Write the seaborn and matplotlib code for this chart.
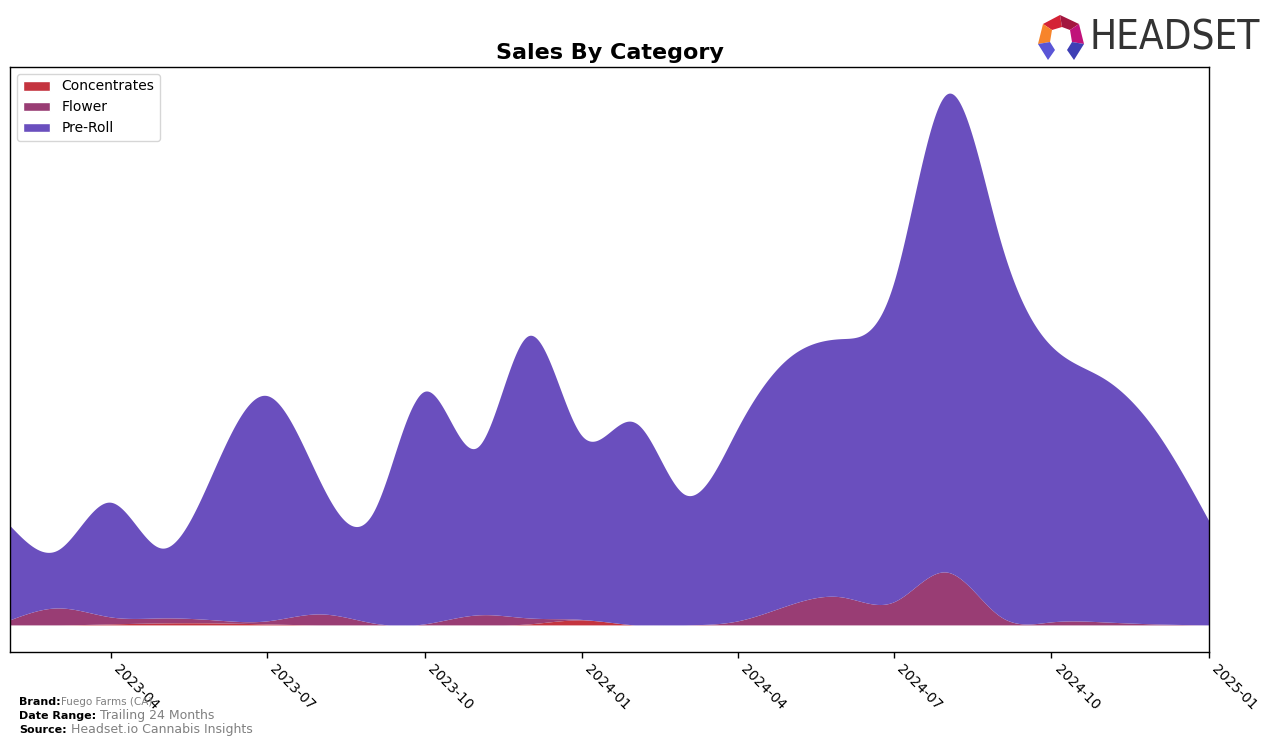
import numpy as np
import pandas as pd
import matplotlib
matplotlib.use("Agg")
import matplotlib.pyplot as plt
import matplotlib.dates as mdates
from matplotlib.patches import Polygon, Patch
import seaborn as sns

# ---- data (monthly) ----
months = pd.date_range("2023-02-01", "2025-01-01", freq="MS")
concentrates = [0, 0, 1, 2, 2, 1, 0, 0, 0, 0, 1, 5,
                0, 0, 0, 0, 0, 0, 0, 0, 0, 0, 0, 0]
flower = [5, 17, 7, 5, 3, 3, 11, 2, 1, 10, 6, 0.5,
          0, 0, 4, 20, 28, 23, 53, 9, 3, 3, 1, 0]
preroll_total = [100, 75, 123, 77, 158, 230, 145, 112, 234, 178, 290, 190,
                 203, 131, 197, 268, 287, 342, 532, 388, 280, 247, 195, 105]
categories = ["Concentrates", "Flower", "Pre-Roll"]
colors = ["#C4343F", "#993D74", "#6A4FBE"]
tick_labels = ["2023-04", "2023-07", "2023-10", "2024-01",
               "2024-04", "2024-07", "2024-10", "2025-01"]

conc = np.array(concentrates, float)
flow = np.array(flower, float)
pre = np.array(preroll_total, float) - conc - flow

df = pd.DataFrame({"date": months, "Concentrates": conc,
                   "Flower": flow, "Pre-Roll": pre})


def natural_spline(x, y, xs):
    n = len(x)
    h = np.diff(x)
    A = np.zeros((n, n))
    b = np.zeros(n)
    A[0, 0] = 1
    A[-1, -1] = 1
    for i in range(1, n - 1):
        A[i, i - 1] = h[i - 1]
        A[i, i] = 2 * (h[i - 1] + h[i])
        A[i, i + 1] = h[i]
        b[i] = 3 * ((y[i + 1] - y[i]) / h[i] - (y[i] - y[i - 1]) / h[i - 1])
    c = np.linalg.solve(A, b)
    bc = (y[1:] - y[:-1]) / h - h * (2 * c[:-1] + c[1:]) / 3
    d = (c[1:] - c[:-1]) / (3 * h)
    idx = np.clip(np.searchsorted(x, xs) - 1, 0, n - 2)
    dx = xs - x[idx]
    return y[idx] + bc[idx] * dx + c[idx] * dx ** 2 + d[idx] * dx ** 3


sns.set_style("white")
plt.rcParams["font.family"] = ["DejaVu Sans"]
plt.rcParams["text.color"] = "black"
plt.rcParams["axes.labelcolor"] = "black"
plt.rcParams["xtick.color"] = "black"
plt.rcParams["axes.titlecolor"] = "black"

fig = plt.figure(figsize=(12.76, 7.47), dpi=100)
ax = fig.add_axes([10 / 1276, 1 - 652 / 747, 1199 / 1276, 585 / 747])

xnum = mdates.date2num(df["date"])
xs = np.linspace(xnum[0], xnum[-1], 1500)
layers = [np.clip(natural_spline(xnum, df[c].values, xs), 0, None) for c in categories]

ax.stackplot(mdates.num2date(xs), *layers, colors=colors, labels=categories,
             linewidth=0.3, edgecolor="none")

total = np.sum(layers, axis=0)
pad = 0.05 * total.max()
ax.set_ylim(-pad, total.max() + pad)
ax.set_xlim(months[0], months[-1])
ax.set_yticks([])

ax.xaxis.set_major_locator(mdates.MonthLocator(bymonth=[1, 4, 7, 10]))
ax.xaxis.set_major_formatter(mdates.DateFormatter("%Y-%m"))
ticks = [t for t in ax.get_xticks() if xnum[0] < t <= xnum[-1] + 0.5]
ax.set_xticks(ticks)
ax.set_xticklabels(tick_labels[:len(ticks)], rotation=-45, ha="left",
                   fontsize=10, color="black")
ax.tick_params(axis="x", length=4, width=1, colors="black", bottom=True)
for s in ax.spines.values():
    s.set_color("black")
    s.set_linewidth(1)

ax.set_title("Sales By Category", fontsize=16, fontweight="bold", pad=6, color="black")

handles = [Patch(facecolor=c, label=l) for c, l in zip(colors, categories)]
leg = ax.legend(handles=handles, loc="upper left", fontsize=10, frameon=True)
for t in leg.get_texts():
    t.set_color("black")

# footer
lab1 = fig.text(19 / 1276, 1 - 702 / 747, "Brand:", fontsize=8, fontweight="bold",
                va="center", color="black")
fig.canvas.draw()
ax.annotate("Fuego Farms (CA)", xy=(1, 0.5), xycoords=lab1, va="center",
            fontsize=7.5, color="gray", annotation_clip=False)
lab2 = fig.text(19 / 1276, 1 - 716 / 747, "Date Range:", fontsize=8, fontweight="bold",
                va="center", color="black")
ax.annotate(" Trailing 24 Months", xy=(1, 0.5), xycoords=lab2, va="center",
            fontsize=9, color="gray", annotation_clip=False)
lab3 = fig.text(19 / 1276, 1 - 730 / 747, "Source:", fontsize=8, fontweight="bold",
                va="center", color="black")
ax.annotate(" Headset.io Cannabis Insights", xy=(1, 0.5), xycoords=lab3, va="center",
            fontsize=9, color="gray", annotation_clip=False)

# logo
fig.text(1260 / 1276, 1 - 38 / 747, "HEADSET", fontsize=29, ha="right", va="center",
         color="#333333", fontstretch="condensed")


def px(pts):
    return [(x / 1276, 1 - y / 747) for x, y in pts]


logo_parts = [
    ([(1043, 24), (1060, 15), (1062, 27), (1052, 30)], "#D42235"),
    ([(1060, 15), (1079, 24), (1070, 30), (1062, 27)], "#A3163F"),
    ([(1043, 24), (1052, 30), (1050, 42), (1038, 44)], "#F7842A"),
    ([(1079, 24), (1084, 44), (1072, 42), (1070, 30)], "#C0127A"),
    ([(1038, 44), (1050, 42), (1055, 50), (1048, 60)], "#5A55D6"),
    ([(1084, 44), (1072, 42), (1067, 50), (1074, 60)], "#3E3FB5"),
]
for pts, col in logo_parts:
    fig.add_artist(Polygon(px(pts), closed=True, facecolor=col, edgecolor="none",
                           transform=fig.transFigure))

fig.savefig("out.png", dpi=100)
